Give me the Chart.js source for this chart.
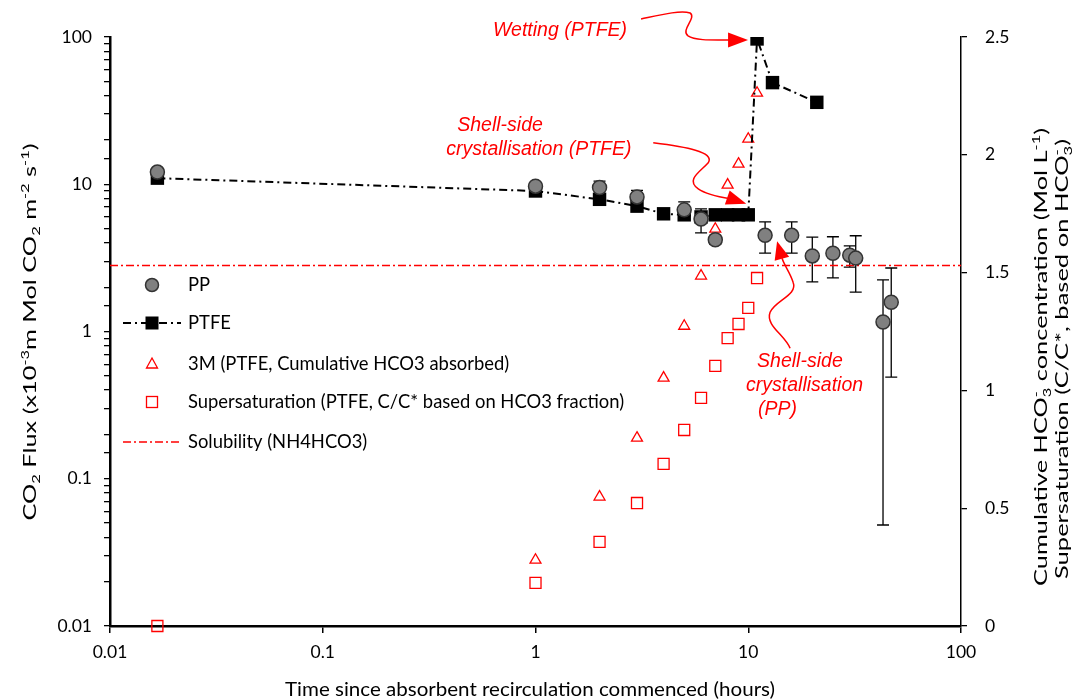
<!DOCTYPE html>
<html>
<head>
<meta charset="utf-8">
<script src="https://cdn.jsdelivr.net/npm/chart.js@4.4.1/dist/chart.umd.min.js"></script>
<style>
  body { margin: 0; background: #fff; }
  canvas { display: block; }
</style>
</head>
<body>
<canvas id="chart" width="1072" height="699"></canvas>
<script>
// --- data ---
const ppTime = [0.0167, 1, 2, 3, 5, 6, 7, 12, 16, 20, 25, 30, 32, 43, 47];
const ppFlux = [12.1, 9.7, 9.5, 8.2, 6.7, 5.8, 4.2, 4.5, 4.5, 3.26, 3.4, 3.3, 3.15, 1.16, 1.58];
const ppHigh = [12.8, 10.1, 10.5, 9.1, 7.6, 6.8, 4.5, 5.55, 5.55, 4.38, 4.4, 3.81, 4.47, 2.24, 2.7];
const ppLow = [11.4, 9.3, 8.6, 7.4, 5.9, 4.67, 3.9, 3.41, 3.41, 2.17, 2.31, 2.74, 1.85, 0.0485, 0.49];

const ptfeTime = [0.0167, 1, 2, 3, 4, 5, 6, 7, 8, 9, 10, 11, 13, 21];
const ptfeFlux = [11.0, 9.0, 7.9, 7.1, 6.3, 6.2, 6.0, 6.2, 6.2, 6.2, 6.2, 97, 49, 36];

const cumTime = [1, 2, 3, 4, 5, 6, 7, 8, 9, 10, 11];
const cumHCO3 = [0.28, 0.548, 0.798, 1.053, 1.273, 1.486, 1.685, 1.872, 1.961, 2.067, 2.262];

const satTime = [0.0167, 1, 2, 3, 4, 5, 6, 7, 8, 9, 10, 11];
const satRatio = [0, 0.183, 0.357, 0.522, 0.688, 0.832, 0.968, 1.104, 1.222, 1.282, 1.35, 1.477];

const solTime = [0.01, 100];
const solValue = [1.53, 1.53];

const timeTicks = [0.01, 0.1, 1, 10, 100];
const timeTickLabels = ['0.01', '0.1', '1', '10', '100'];
const fluxTicks = [0.01, 0.1, 1, 10, 100];
const fluxTickLabels = ['0.01', '0.1', '1', '10', '100'];
const concTickLabels = ['0', '0.5', '1', '1.5', '2', '2.5'];

const legendNames = ['PP', 'PTFE', '3M (PTFE, Cumulative HCO3 absorbed)',
  'Supersaturation (PTFE, C/C* based on HCO3 fraction)', 'Solubility (NH4HCO3)'];

const FONT = 'Lato, "Open Sans", sans-serif';
const RED = '#ff0000';

const pts = (xs, ys) => xs.map((x, i) => ({ x: x, y: ys[i] }));

// rich text: parts = [[text, kind]] kind '', 'sub', 'sup', 'subsup' ("a|b")
function richWidth(ctx, parts, size) {
  let w = 0;
  parts.forEach(([t, k]) => {
    if (k === '') { ctx.font = size + 'px ' + FONT; w += ctx.measureText(t).width; }
    else if (k === 'subsup') {
      ctx.font = (size * 0.65) + 'px ' + FONT;
      const [a, b] = t.split('|');
      w += Math.max(ctx.measureText(a).width, ctx.measureText(b).width);
    } else { ctx.font = (size * 0.65) + 'px ' + FONT; w += ctx.measureText(t).width; }
  });
  return w;
}
// draws centred at x at font `size`, stretched along the line to be `span` px long
function drawRich(ctx, parts, x, y, span, size) {
  const sx = span / richWidth(ctx, parts, size);
  ctx.save();
  ctx.translate(x - span / 2, y);
  ctx.scale(sx, 1);
  let cx = 0;
  ctx.textBaseline = 'alphabetic';
  ctx.textAlign = 'left';
  parts.forEach(([t, k]) => {
    if (k === '') {
      ctx.font = size + 'px ' + FONT;
      ctx.fillText(t, cx, 0); cx += ctx.measureText(t).width;
    } else if (k === 'sub' || k === 'sup') {
      ctx.font = (size * 0.65) + 'px ' + FONT;
      ctx.fillText(t, cx, k === 'sub' ? size * 0.22 : -size * 0.38);
      cx += ctx.measureText(t).width;
    } else {
      ctx.font = (size * 0.65) + 'px ' + FONT;
      const [a, b] = t.split('|');
      ctx.fillText(a, cx, size * 0.22);
      ctx.fillText(b, cx, -size * 0.38);
      cx += Math.max(ctx.measureText(a).width, ctx.measureText(b).width);
    }
  });
  ctx.restore();
}

function arrowHead(ctx, tip, from, len, half) {
  const a = Math.atan2(tip.y - from.y, tip.x - from.x);
  const bx = tip.x - len * Math.cos(a), by = tip.y - len * Math.sin(a);
  ctx.beginPath();
  ctx.moveTo(tip.x, tip.y);
  ctx.lineTo(bx + half * Math.sin(a), by - half * Math.cos(a));
  ctx.lineTo(bx - half * Math.sin(a), by + half * Math.cos(a));
  ctx.closePath();
  ctx.fill();
}

const errorBars = {
  id: 'errorBars',
  beforeDatasetsDraw(chart) {
    const { ctx, scales: { x, y } } = chart;
    ctx.save();
    ctx.strokeStyle = '#000';
    ctx.lineWidth = 1.3;
    ppTime.forEach((t, i) => {
      const px = x.getPixelForValue(t);
      const top = y.getPixelForValue(ppHigh[i]);
      const bot = y.getPixelForValue(ppLow[i]);
      ctx.beginPath();
      ctx.moveTo(px, top); ctx.lineTo(px, bot);
      ctx.moveTo(px - 6, top); ctx.lineTo(px + 6, top);
      ctx.moveTo(px - 6, bot); ctx.lineTo(px + 6, bot);
      ctx.stroke();
    });
    ctx.restore();
  }
};

const decor = {
  id: 'decor',
  afterDraw(chart) {
    const { ctx, chartArea: ca, scales: { x, y } } = chart;
    ctx.save();
    ctx.fillStyle = '#000';

    // axis titles
    drawRich(ctx, [['Time since absorbent recirculation commenced (hours)', '']], 530, 696, 490, 19.5);
    ctx.save();
    ctx.translate(36, 332);
    ctx.rotate(-Math.PI / 2);
    drawRich(ctx, [['CO', ''], ['2', 'sub'], [' Flux (x10', ''], ['-3', 'sup'], ['m Mol CO', ''], ['2', 'sub'],
      [' m', ''], ['-2', 'sup'], [' s', ''], ['-1', 'sup'], [')', '']], 0, 0, 377, 18);
    ctx.restore();
    ctx.save();
    ctx.translate(1047, 357);
    ctx.rotate(-Math.PI / 2);
    drawRich(ctx, [['Cumulative HCO', ''], ['3|-', 'subsup'], [' concentration (Mol L', ''], ['-1', 'sup'], [')', '']], 0, 0, 458, 18);
    drawRich(ctx, [['Supersaturation (C/C*, based on HCO', ''], ['3|-', 'subsup'], [')', '']], -2, 21, 440, 18);
    ctx.restore();

    // legend
    const lx = ca.left + 42, tx = ca.left + 78;
    const ly = [285, 323, 364, 402, 442].map(v => v - 37 + ca.top);
    ctx.font = '18.4px ' + FONT;
    ctx.textBaseline = 'middle';
    ctx.textAlign = 'left';
    ctx.fillStyle = '#000';
    legendNames.forEach((n, i) => ctx.fillText(n, tx, ly[i]));
    // PP marker
    ctx.beginPath(); ctx.arc(lx, ly[0], 6.5, 0, Math.PI * 2);
    ctx.fillStyle = '#808080'; ctx.fill();
    ctx.strokeStyle = '#333'; ctx.lineWidth = 1.5; ctx.stroke();
    // PTFE line + marker
    ctx.strokeStyle = '#000'; ctx.lineWidth = 2; ctx.setLineDash([8, 4, 2, 4]);
    ctx.beginPath(); ctx.moveTo(lx - 29, ly[1]); ctx.lineTo(lx + 29, ly[1]); ctx.stroke();
    ctx.setLineDash([]);
    ctx.fillStyle = '#000'; ctx.fillRect(lx - 6.5, ly[1] - 6.5, 13, 13);
    // triangle
    ctx.strokeStyle = RED; ctx.lineWidth = 1.3;
    ctx.beginPath(); ctx.moveTo(lx, ly[2] - 6); ctx.lineTo(lx + 5.5, ly[2] + 4); ctx.lineTo(lx - 5.5, ly[2] + 4); ctx.closePath(); ctx.stroke();
    // open square
    ctx.strokeRect(lx - 5.5, ly[3] - 5.5, 11, 11);
    // solubility line
    ctx.setLineDash([8, 3, 2, 3]); ctx.lineWidth = 1.5;
    ctx.beginPath(); ctx.moveTo(lx - 29, ly[4]); ctx.lineTo(lx + 29, ly[4]); ctx.stroke();
    ctx.setLineDash([]);

    // annotations, anchored to data points
    ctx.fillStyle = RED; ctx.strokeStyle = RED; ctx.lineWidth = 1.5;
    ctx.font = 'italic 19.5px "Liberation Sans", Arial, sans-serif';
    ctx.textBaseline = 'alphabetic';
    const anchor = (tv, fv, dx0, dy0) => ({ dx: x.getPixelForValue(tv) - dx0, dy: y.getPixelForValue(fv) - dy0 });
    const curve = (d, p) => {
      ctx.beginPath();
      ctx.moveTo(p[0] + d.dx, p[1] + d.dy);
      for (let i = 2; i < p.length; i += 6) {
        ctx.bezierCurveTo(p[i] + d.dx, p[i + 1] + d.dy, p[i + 2] + d.dx, p[i + 3] + d.dy, p[i + 4] + d.dx, p[i + 5] + d.dy);
      }
      ctx.stroke();
    };
    // wetting
    let d = anchor(11, 97, 757, 39);
    ctx.fillText('Wetting (PTFE)', 493 + d.dx, 36 + d.dy);
    curve(d, [641, 19, 660, 15, 680, 10, 690, 13, 697, 18, 680, 30, 688, 36, 695, 41, 715, 40, 730, 40]);
    arrowHead(ctx, { x: 748 + d.dx, y: 40 + d.dy }, { x: 729 + d.dx, y: 40 + d.dy }, 20, 7.5);
    // shell-side PTFE
    d = anchor(10, 6.2, 748, 215);
    ctx.fillText('Shell-side', 457 + d.dx, 131 + d.dy);
    ctx.fillText('crystallisation (PTFE)', 446 + d.dx, 155 + d.dy);
    curve(d, [653, 143, 685, 147, 715, 152, 708, 163, 700, 172, 685, 180, 698, 189, 705, 194, 718, 197, 730, 199]);
    arrowHead(ctx, { x: 746 + d.dx, y: 204 + d.dy }, { x: 728 + d.dx, y: 198 + d.dy }, 20, 7.5);
    // shell-side PP
    d = anchor(12, 4.5, 765, 235);
    ctx.fillText('Shell-side', 757 + d.dx, 367 + d.dy);
    ctx.fillText('crystallisation', 746 + d.dx, 391 + d.dy);
    ctx.fillText('(PP)', 758 + d.dx, 415 + d.dy);
    curve(d, [790, 348, 785, 335, 765, 325, 770, 312, 775, 300, 798, 295, 793, 282, 790, 272, 784, 265, 782, 258]);
    arrowHead(ctx, { x: 777 + d.dx, y: 241 + d.dy }, { x: 782 + d.dx, y: 259 + d.dy }, 18, 7.5);

    ctx.restore();
  }
};

const isDecade = v => Math.abs(Math.log10(v) - Math.round(Math.log10(v))) < 1e-6;
const tickFont = { family: FONT, size: 17.5 };

new Chart(document.getElementById('chart').getContext('2d'), {
  type: 'scatter',
  data: {
    datasets: [
      {
        label: 'PP', data: pts(ppTime, ppFlux), yAxisID: 'y',
        pointStyle: 'circle', pointRadius: 7, backgroundColor: '#808080', borderColor: '#333', borderWidth: 1.5,
        showLine: false
      },
      {
        label: 'PTFE', data: pts(ptfeTime, ptfeFlux), yAxisID: 'y',
        pointStyle: 'rect', pointRadius: 9.5, backgroundColor: '#000', borderColor: '#000', borderWidth: 2,
        showLine: true, borderDash: [8, 4, 2, 4], pointBorderWidth: 0
      },
      {
        label: legendNames[2], data: pts(cumTime, cumHCO3), yAxisID: 'y2',
        pointStyle: 'triangle', pointRadius: 6.3, backgroundColor: 'rgba(0,0,0,0)', borderColor: RED, borderWidth: 1.3
      },
      {
        label: legendNames[3], data: pts(satTime, satRatio), yAxisID: 'y2', clip: false,
        pointStyle: 'rect', pointRadius: 7.8, backgroundColor: 'rgba(0,0,0,0)', borderColor: RED, borderWidth: 1.3
      },
      {
        label: legendNames[4], data: pts(solTime, solValue), yAxisID: 'y2',
        showLine: true, pointRadius: 0, borderColor: RED, borderWidth: 1.5, borderDash: [8, 3, 2, 3]
      }
    ]
  },
  options: {
    responsive: false,
    animation: false,
    devicePixelRatio: 1,
    layout: { padding: { top: 37, left: 0, right: 0, bottom: 0 } },
    plugins: { legend: { display: false }, tooltip: { enabled: false } },
    scales: {
      x: {
        type: 'logarithmic', min: 0.01, max: 100,
        afterBuildTicks: s => { s.ticks = timeTicks.map(v => ({ value: v })); },
        afterFit: s => { s.height = 73; },
        ticks: {
          autoSkip: false, maxRotation: 0, color: '#000', font: tickFont, padding: 9,
          callback: (v) => timeTickLabels[timeTicks.indexOf(v)]
        },
        grid: { drawOnChartArea: false, drawTicks: true, tickLength: 7, color: '#000', lineWidth: 1.5 },
        border: { color: '#000', width: 2.5 }
      },
      y: {
        type: 'logarithmic', position: 'left', min: 0.01, max: 100,
        afterFit: s => { s.width = 110; },
        ticks: {
          autoSkip: false, color: '#000', font: tickFont, padding: 12,
          callback: (v) => isDecade(v) ? fluxTickLabels[fluxTicks.findIndex(t => Math.abs(t - v) < 1e-9 * t + 1e-12)] : ''
        },
        grid: { drawOnChartArea: false, drawTicks: true, tickLength: 6, color: '#000', lineWidth: 1.3 },
        border: { color: '#000', width: 2.5 }
      },
      y2: {
        type: 'linear', position: 'right', min: 0, max: 2.5,
        afterFit: s => { s.width = 111; },
        ticks: {
          stepSize: 0.5, color: '#000', font: tickFont, padding: 18,
          callback: (v) => concTickLabels[Math.round(v / 0.5)]
        },
        grid: { drawOnChartArea: false, drawTicks: true, tickLength: 6, color: '#000', lineWidth: 1.3 },
        border: { color: '#000', width: 1.5 }
      }
    }
  },
  plugins: [errorBars, decor]
});
</script>
</body>
</html>
